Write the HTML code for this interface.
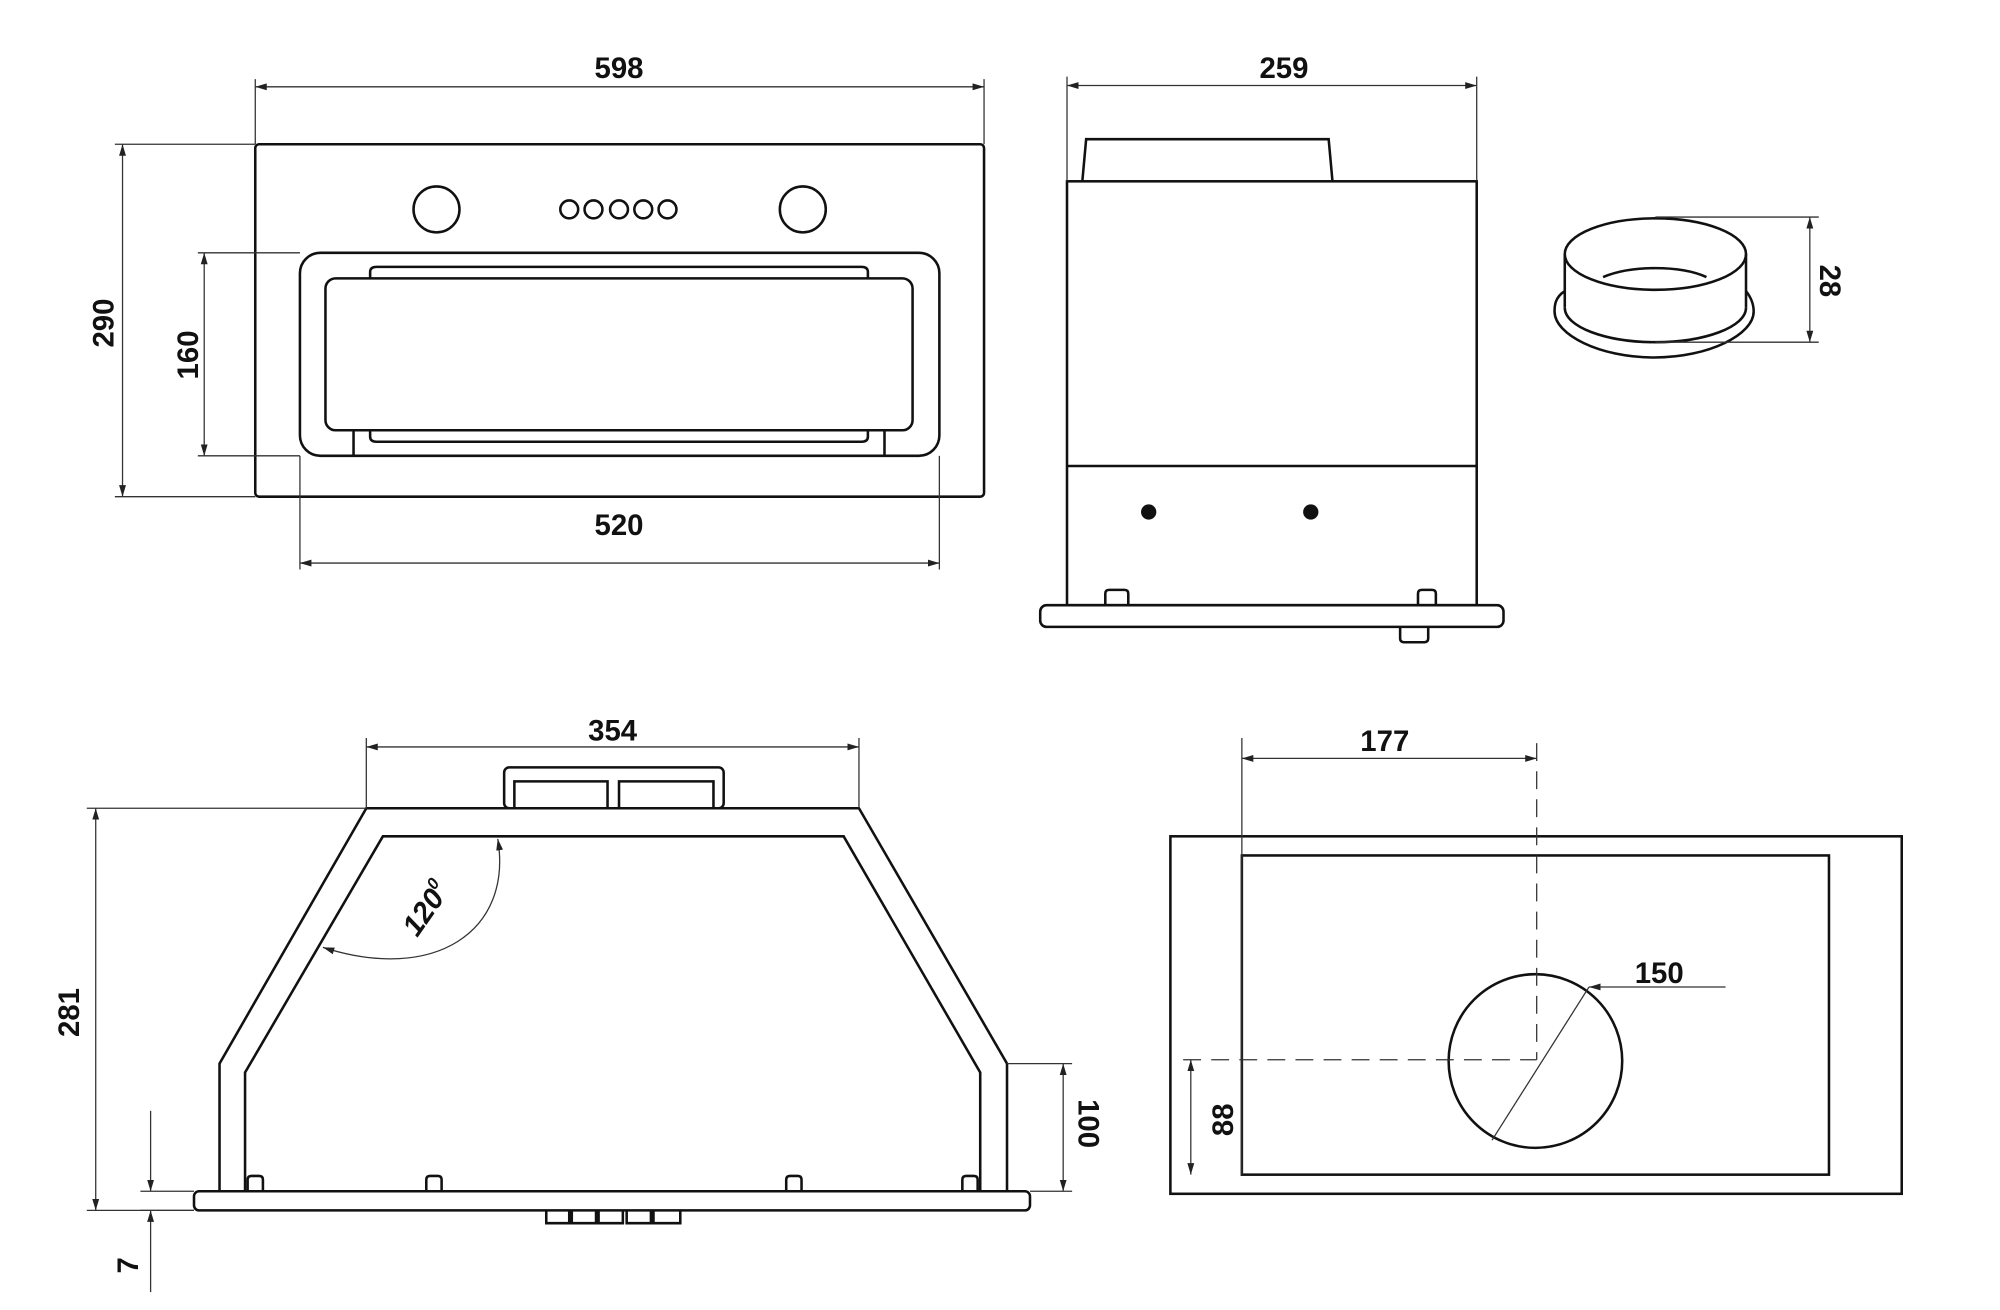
<!DOCTYPE html>
<html><head><meta charset="utf-8"><style>
html,body{margin:0;padding:0;background:#fff;}
svg{display:block;}
text{font-family:"Liberation Sans",sans-serif;font-weight:bold;font-size:23px;fill:#111;}
</style></head><body>
<svg width="2000" height="1310" viewBox="0 0 1567 1026" preserveAspectRatio="none" xmlns="http://www.w3.org/2000/svg">
<defs>
<marker id="a" viewBox="0 0 10 10" refX="10" refY="5" markerWidth="9" markerHeight="9" orient="auto-start-reverse" markerUnits="userSpaceOnUse"><path d="M0,2 L10,5 L0,8 z" fill="#222"/></marker>
</defs>
<g fill="none" stroke="#111" stroke-width="2">
<rect x="200" y="113" width="571" height="276" rx="3"/>
<circle cx="342" cy="164" r="18"/><circle cx="629" cy="164" r="18"/>
<circle cx="446" cy="164" r="7"/><circle cx="465" cy="164" r="7"/><circle cx="485" cy="164" r="7"/><circle cx="504" cy="164" r="7"/><circle cx="523" cy="164" r="7"/>
<rect x="235" y="198" width="501" height="159" rx="16"/>
<rect x="255" y="218" width="460" height="119" rx="8"/>
<path d="M290,218 V213 Q290,209 295,209 H675 Q680,209 680,213 V218"/>
<path d="M290,337 V342 Q290,346 295,346 H675 Q680,346 680,342 V337"/>
<path d="M277,337 V357 M693,337 V357"/>
<path d="M848,142 L851,109 H1041 L1044,142"/>
<rect x="836" y="142" width="321" height="332"/>
<line x1="836" y1="365" x2="1157" y2="365"/>
<path d="M866,474 V465 Q866,462 869,462 H881 Q884,462 884,465 V474"/>
<path d="M1111,474 V465 Q1111,462 1114,462 H1122 Q1125,462 1125,465 V474"/>
<rect x="815" y="474" width="363" height="17" rx="5"/>
<path d="M1097,491 V500 Q1097,503 1100,503 H1116 Q1119,503 1119,500 V491"/>
<path d="M1226,228 C1218,233 1218,240 1218,244 C1218,262 1253,280 1296,280 C1339,280 1374,262 1374,244 C1374,238 1372,233 1368,228"/>
<ellipse cx="1297" cy="199" rx="71" ry="28"/>
<path d="M1226,199 V241 M1368,199 V241"/>
<path d="M1226,241 C1226,256 1258,268 1297,268 C1336,268 1368,256 1368,241"/>
<path d="M1256,217 C1268,212 1283,210 1297,210 C1312,210 1326,212 1337,217"/>
<path d="M172,933 V833 L287,633 H673 L789,833 V933"/>
<path d="M192,933 V840 L300,655 H661 L768,840 V933"/>
<rect x="395" y="601" width="172" height="32" rx="4"/>
<path d="M403,633 V612 H476 V633 M485,633 V612 H559 V633"/>
<rect x="152" y="933" width="655" height="15" rx="4"/>
<path d="M194,933 V924 Q194,921 197,921 H203 Q206,921 206,924 V933"/>
<path d="M334,933 V924 Q334,921 337,921 H343 Q346,921 346,924 V933"/>
<path d="M616,933 V924 Q616,921 619,921 H625 Q628,921 628,924 V933"/>
<path d="M754,933 V924 Q754,921 757,921 H763 Q766,921 766,924 V933"/>
<path d="M428,948 V958 H446 V948 M448,948 V958 H467 V948 M469,948 V958 H488 V948 M491,948 V958 H510 V948 M512,948 V958 H533 V948"/>
<rect x="917" y="655" width="573" height="280"/>
<rect x="973" y="670" width="460" height="250"/>
<circle cx="1203" cy="831" r="68"/>
</g>
<g fill="none" stroke="#333" stroke-width="1">
<line x1="200" y1="68" x2="771" y2="68" marker-start="url(#a)" marker-end="url(#a)"/>
<path d="M200,62 V113 M771,62 V113"/>
<line x1="96" y1="113" x2="96" y2="389" marker-start="url(#a)" marker-end="url(#a)"/>
<path d="M90,113 H200 M90,389 H200"/>
<line x1="160" y1="198" x2="160" y2="357" marker-start="url(#a)" marker-end="url(#a)"/>
<path d="M155,198 H235 M155,357 H235"/>
<line x1="235" y1="441" x2="736" y2="441" marker-start="url(#a)" marker-end="url(#a)"/>
<path d="M235,357 V446 M736,357 V446"/>
<line x1="836" y1="67" x2="1157" y2="67" marker-start="url(#a)" marker-end="url(#a)"/>
<path d="M836,60 V142 M1157,60 V142"/>
<line x1="1418" y1="170" x2="1418" y2="268" marker-start="url(#a)" marker-end="url(#a)"/>
<path d="M1297,170 H1425 M1297,268 H1425"/>
<line x1="287" y1="585" x2="673" y2="585" marker-start="url(#a)" marker-end="url(#a)"/>
<path d="M287,578 V633 M673,578 V633"/>
<line x1="75" y1="633" x2="75" y2="948" marker-start="url(#a)" marker-end="url(#a)"/>
<path d="M68,633 H287 M68,948 H152"/>
<line x1="833" y1="833" x2="833" y2="933" marker-start="url(#a)" marker-end="url(#a)"/>
<path d="M789,833 H840 M807,933 H840"/>
<line x1="118" y1="870" x2="118" y2="933" marker-end="url(#a)"/>
<line x1="118" y1="1012" x2="118" y2="948" marker-end="url(#a)"/>
<path d="M110,933 H152 M110,948 H152"/>
<path d="M390,657 C402,730 340,770 253,742" marker-start="url(#a)" marker-end="url(#a)"/>
<line x1="973" y1="578" x2="973" y2="920"/>
<line x1="973" y1="594" x2="1204" y2="594" marker-start="url(#a)" marker-end="url(#a)"/>
<line x1="1204" y1="582" x2="1204" y2="830" stroke-dasharray="14,8"/>
<line x1="927" y1="830" x2="1204" y2="830" stroke-dasharray="14,8"/>
<line x1="933" y1="830" x2="933" y2="920" marker-start="url(#a)" marker-end="url(#a)"/>
<line x1="1245" y1="773" x2="1169" y2="893"/>
<line x1="1352" y1="773" x2="1245" y2="773" marker-end="url(#a)"/>
</g>
<g fill="#111">
<circle cx="900" cy="401" r="6"/><circle cx="1027" cy="401" r="6"/>
</g>
<text x="485" y="61" text-anchor="middle">598</text>
<text x="485" y="419" text-anchor="middle">520</text>
<text x="1006" y="61" text-anchor="middle">259</text>
<text x="480" y="580" text-anchor="middle">354</text>
<text x="1085" y="588" text-anchor="middle">177</text>
<text x="1300" y="770" text-anchor="middle">150</text>
<text transform="translate(89,253) rotate(-90)" text-anchor="middle">290</text>
<text transform="translate(155,278) rotate(-90)" text-anchor="middle">160</text>
<text transform="translate(62,793) rotate(-90)" text-anchor="middle">281</text>
<text transform="translate(108,991) rotate(-90)" text-anchor="middle">7</text>
<text transform="translate(966,877) rotate(-90)" text-anchor="middle">88</text>
<text transform="translate(1426,220) rotate(90)" text-anchor="middle">28</text>
<text transform="translate(845,880) rotate(90)" text-anchor="middle">100</text>
<text transform="translate(340,716) rotate(-55)" text-anchor="middle" style="font-style:italic">120<tspan font-size="13" dy="-10">0</tspan></text>
</svg>
</body></html>
